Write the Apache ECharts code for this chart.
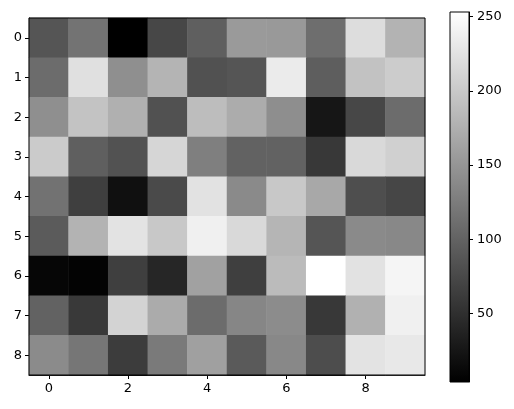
<!DOCTYPE html>
<html>
<head>
<meta charset="utf-8">
<script src="https://cdn.jsdelivr.net/npm/echarts@6/dist/echarts.min.js"></script>
<style>
    html, body { margin: 0; padding: 0; background: #fff; }
    #chart { width: 514px; height: 409px; }
</style>
</head>
<body>
<div id="chart"></div>
<script>
// values, row 0 at the top
var rows = ['0', '1', '2', '3', '4', '5', '6', '7', '8'];
var cols = ['0', '1', '2', '3', '4', '5', '6', '7', '8', '9'];
var values = [
    [87, 116, 4, 73, 97, 154, 153, 111, 220, 179],
    [109, 223, 144, 180, 83, 87, 233, 96, 193, 203],
    [144, 194, 176, 83, 189, 172, 143, 25, 73, 109],
    [202, 97, 84, 213, 128, 100, 100, 59, 216, 207],
    [115, 66, 20, 76, 225, 139, 199, 168, 80, 72],
    [93, 179, 226, 199, 238, 216, 181, 87, 139, 137],
    [10, 7, 66, 41, 161, 66, 187, 253, 225, 243],
    [100, 60, 210, 171, 109, 135, 141, 59, 177, 238],
    [140, 119, 63, 123, 160, 92, 137, 79, 226, 231]
];
var vmin = 4, vmax = 253;
var cbTicks = [50, 100, 150, 200, 250];

var cells = [];
for (var r = 0; r < values.length; r++) {
    for (var c = 0; c < values[r].length; c++) {
        cells.push([c, r, values[r][c]]);
    }
}

var font = 'DejaVu Sans';
var labelStyle = { color: '#000', fontSize: 13, fontFamily: font };

var myChart = echarts.init(document.getElementById('chart'));
var option = {
    animation: false,
    backgroundColor: '#fff',
    grid: [
        { left: 29, top: 18, width: 396, height: 357, show: true, borderColor: '#000', borderWidth: 1, z: 10 },
        { left: 450, top: 12, width: 19, height: 370, show: true, borderColor: '#000', borderWidth: 1, z: 10 }
    ],
    xAxis: [{
        gridIndex: 0,
        type: 'category',
        data: cols,
        axisLine: { show: true, lineStyle: { color: '#000' } },
        axisTick: { show: true, alignWithLabel: true, interval: 1, length: 4, lineStyle: { color: '#000' } },
        axisLabel: Object.assign({ interval: 1, margin: 7 }, labelStyle),
        splitLine: { show: false }
    }, {
        gridIndex: 1,
        type: 'category',
        data: ['cb'],
        show: false
    }],
    yAxis: [{
        gridIndex: 0,
        type: 'category',
        data: rows,
        inverse: true,
        axisLine: { show: true, lineStyle: { color: '#000' } },
        axisTick: { show: true, alignWithLabel: true, length: 4, lineStyle: { color: '#000' } },
        axisLabel: Object.assign({ margin: 7 }, labelStyle),
        splitLine: { show: false }
    }, {
        gridIndex: 1,
        type: 'value',
        position: 'right',
        min: vmin,
        max: vmax,
        axisLine: { show: true, lineStyle: { color: '#000' } },
        axisTick: { show: true, length: 4, customValues: cbTicks, lineStyle: { color: '#000' } },
        axisLabel: Object.assign({ margin: 8, customValues: cbTicks }, labelStyle),
        splitLine: { show: false }
    }],
    visualMap: {
        show: false,
        seriesIndex: 0,
        min: vmin,
        max: vmax,
        inRange: { color: ['#000000', '#ffffff'] }
    },
    series: [{
        type: 'heatmap',
        xAxisIndex: 0,
        yAxisIndex: 0,
        data: cells,
        itemStyle: { borderWidth: 0 }
    }, {
        // colour bar: transparent base up to vmin, then the gradient up to vmax
        type: 'bar',
        xAxisIndex: 1,
        yAxisIndex: 1,
        stack: 'cb',
        barWidth: '100%',
        silent: true,
        data: [vmin],
        itemStyle: { color: 'transparent' }
    }, {
        type: 'bar',
        xAxisIndex: 1,
        yAxisIndex: 1,
        stack: 'cb',
        barWidth: '100%',
        silent: true,
        data: [vmax - vmin],
        itemStyle: {
            color: new echarts.graphic.LinearGradient(0, 0, 0, 1, [
                { offset: 0, color: '#ffffff' },
                { offset: 1, color: '#000000' }
            ])
        }
    }]
};
myChart.setOption(option);
</script>
</body>
</html>
